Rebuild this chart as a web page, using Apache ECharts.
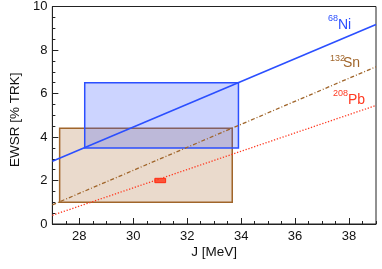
<!DOCTYPE html>
<html>
<head>
<meta charset="utf-8">
<script src="https://cdn.jsdelivr.net/npm/echarts@6/dist/echarts.min.js"></script>
<style>html,body{margin:0;padding:0;background:#fff}#c{width:382px;height:269px}</style>
</head>
<body>
<div id="c"></div>
<script>
// ---- data ----
const xRange = [27, 39];
const yRange = [0, 10];
const xMajorTicks = [28, 30, 32, 34, 36, 38];
// constraint lines: [J, EWSR] endpoints
const niLine = [[27, 2.89], [39, 9.17]];
const snLine = [[27, 0.88], [39, 7.23]];
const pbLine = [[27, 0.40], [39, 5.45]];
// boxes: [xMin, xMax, yMin, yMax]
const snBox = [27.27, 33.67, 1.0, 4.4];
const niBox = [28.2, 33.9, 3.5, 6.5];
const pbPoint = [30.8, 31.2, 1.9, 2.1];

const FONT = 'Liberation Sans, Arial, Helvetica, sans-serif';
const C_NI = '#2b4fff', C_SN = '#a0652a', C_PB = '#ff3a22';

function boxSeries(box, stroke, fill, lw) {
  return {
    type: 'custom', xAxisIndex: 0, yAxisIndex: 0,
    data: [box],
    renderItem: function (params, api) {
      const p0 = api.coord([api.value(0), api.value(3)]);
      const p1 = api.coord([api.value(1), api.value(2)]);
      return {
        type: 'rect',
        shape: { x: p0[0], y: p0[1], width: p1[0] - p0[0], height: p1[1] - p0[1] },
        style: { fill: fill, stroke: stroke, lineWidth: lw }
      };
    },
    silent: true, z: 2
  };
}

const chart = echarts.init(document.getElementById('c'), null, { renderer: 'canvas' });
chart.setOption({
  animation: false,
  grid: { left: 45, right: 6, top: 5, bottom: 45, show: true, borderColor: '#222', borderWidth: 1, backgroundColor: 'transparent' },
  xAxis: [
    {
      type: 'value', min: xRange[0], max: xRange[1], interval: 0.5,
      axisLine: { show: true, lineStyle: { color: '#222', width: 1 } },
      axisTick: { show: true, inside: true, length: 3, lineStyle: { color: '#222' } },
      axisLabel: { show: false },
      splitLine: { show: false },
      name: 'J [MeV]', nameLocation: 'middle', nameGap: 21,
      nameTextStyle: { fontFamily: FONT, fontSize: 13.5, color: '#111' }
    },
    {
      type: 'value', min: xRange[0], max: xRange[1], position: 'bottom',
      axisLine: { show: false },
      axisTick: { show: true, inside: true, length: 6, customValues: xMajorTicks, lineStyle: { color: '#222' } },
      axisLabel: { show: true, customValues: xMajorTicks, margin: 6, fontFamily: FONT, fontSize: 13, color: '#111' },
      splitLine: { show: false }
    }
  ],
  yAxis: {
    type: 'value', min: yRange[0], max: yRange[1], interval: 2,
    axisLine: { show: true, lineStyle: { color: '#222', width: 1 } },
    axisTick: { show: true, inside: true, length: 6, lineStyle: { color: '#222' } },
    minorTick: { show: true, splitNumber: 4, length: 3, lineStyle: { color: '#222' } },
    axisLabel: { margin: 5, fontFamily: FONT, fontSize: 13, color: '#111' },
    splitLine: { show: false },
    name: 'EWSR [% TRK]', nameLocation: 'middle', nameGap: 28,
    nameTextStyle: { fontFamily: FONT, fontSize: 13.5, color: '#111', padding: [0, 9, 0, 0] }
  },
  series: [
    boxSeries(snBox, C_SN, 'rgba(168,102,40,0.24)', 1.5),
    boxSeries(niBox, C_NI, 'rgba(51,85,255,0.25)', 1.5),
    { type: 'line', data: niLine, symbol: 'none', lineStyle: { color: C_NI, width: 1.6, type: 'solid' }, z: 3, silent: true },
    { type: 'line', data: snLine, symbol: 'none', lineStyle: { color: C_SN, width: 1.3, type: [4, 2, 1, 2] }, z: 3, silent: true },
    { type: 'line', data: pbLine, symbol: 'none', lineStyle: { color: C_PB, width: 1.3, type: [1.3, 1.7] }, z: 3, silent: true },
    boxSeries(pbPoint, '#ff2a10', 'rgba(255,60,30,0.85)', 1)
  ],
  graphic: [
    { type: 'text', left: 328, top: 14, style: { text: '68', fill: C_NI, font: '9px ' + FONT } },
    { type: 'text', left: 338, top: 18, style: { text: 'Ni', fill: C_NI, font: '14px ' + FONT } },
    { type: 'text', left: 330, top: 54, style: { text: '132', fill: C_SN, font: '9px ' + FONT } },
    { type: 'text', left: 343, top: 56, style: { text: 'Sn', fill: C_SN, font: '14px ' + FONT } },
    { type: 'text', left: 333, top: 89, style: { text: '208', fill: C_PB, font: '9px ' + FONT } },
    { type: 'text', left: 348, top: 93, style: { text: 'Pb', fill: C_PB, font: '14px ' + FONT } }
  ]
});
</script>
</body>
</html>
